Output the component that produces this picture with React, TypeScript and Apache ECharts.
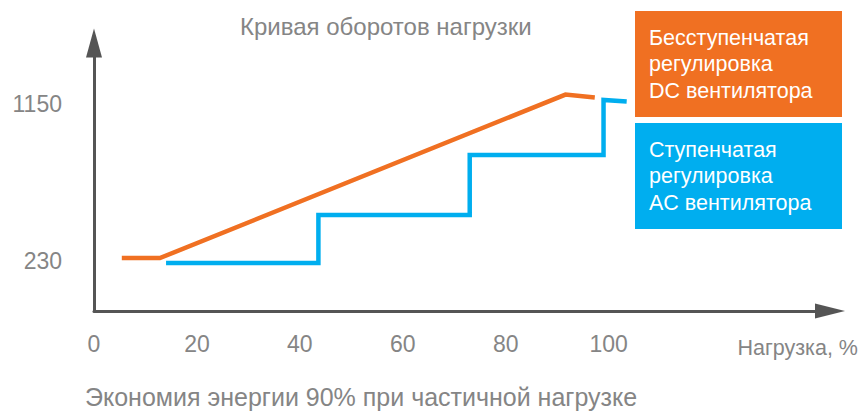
import React, { useEffect, useRef } from "react";
import * as echarts from "echarts";

// Axis tick labels
const xTicks = [0, 20, 40, 60, 80, 100];
const yTicks = [230, 1150];

// DC fan (stepless) curve: load %, speed
const dcLoad = [5.4, 12.8, 91.6, 97.3];
const dcSpeed = [250, 250, 1208, 1191];

// AC fan (stepped) curve: load %, speed
const acLoad = [14.0, 43.6, 43.6, 73.0, 73.0, 99.0, 99.0, 103.5];
const acSpeed = [221, 221, 502, 502, 854, 854, 1176, 1167];

const dcLabel = ["Бесступенчатая", "регулировка", "DC вентилятора"];
const acLabel = ["Ступенчатая", "регулировка", "AC вентилятора"];

const titleText = "Кривая оборотов нагрузки";
const footText = "Экономия энергии 90% при частичной нагрузке";
const xName = "Нагрузка, %";

const ORANGE = "#F07022";
const BLUE = "#00AEEF";
const GRAY = "#858585";
const AXIS = "#555555";
const FONT = "'Liberation Sans', Arial, sans-serif";

export default function App() {
  const ref = useRef<HTMLDivElement>(null);
  useEffect(() => {
    if (!ref.current) return;
    const chart = echarts.init(ref.current, undefined, { renderer: "svg" });
    const legendBox = (top: number, color: string, lines: string[]) => ({
      type: "group",
      left: 635,
      top,
      children: [
        {
          type: "rect",
          shape: { x: 0, y: 0, width: 207, height: 106 },
          style: { fill: color },
        },
        {
          type: "text",
          x: 14,
          y: 53,
          style: {
            text: lines.join("\n"),
            fill: "#ffffff",
            fontSize: 21.5,
            fontFamily: FONT,
            lineHeight: 26.5,
            align: "left",
            verticalAlign: "middle",
          },
        },
      ],
    });
    chart.setOption({
      animation: false,
      title: [
        {
          text: titleText,
          left: 235,
          top: 9,
          textStyle: { fontSize: 24, fontWeight: "normal", color: GRAY, fontFamily: FONT },
        },
        {
          text: footText,
          left: 80,
          top: 379,
          textStyle: { fontSize: 25, fontWeight: "normal", color: GRAY, fontFamily: FONT },
        },
      ],
      grid: { left: 94, right: 34, top: 43, bottom: 100, containLabel: false, outerBoundsMode: "none" },
      xAxis: {
        type: "value",
        min: 0,
        max: 143,
        name: xName,
        nameLocation: "end",
        nameGap: 28,
        nameTextStyle: {
          align: "right",
          verticalAlign: "top",
          padding: [26, 0, 0, 0],
          fontSize: 21.5,
          color: GRAY,
          fontFamily: FONT,
        },
        axisLine: {
          show: true,
          onZero: false,
          symbol: ["none", "triangle"],
          symbolSize: [15, 30],
          lineStyle: { color: AXIS, width: 3 },
        },
        axisTick: { show: false },
        splitLine: { show: false },
        axisLabel: {
          customValues: xTicks,
          margin: 21,
          fontSize: 23,
          color: GRAY,
          fontFamily: FONT,
          formatter: (v: number) => String(v),
        },
      },
      yAxis: {
        type: "value",
        min: -60,
        max: 1510,
        axisLine: {
          show: true,
          onZero: false,
          symbol: ["none", "triangle"],
          symbolSize: [16, 29],
          lineStyle: { color: AXIS, width: 3 },
        },
        axisTick: { show: false },
        splitLine: { show: false },
        axisLabel: {
          customValues: yTicks,
          margin: 32,
          fontSize: 23,
          color: GRAY,
          fontFamily: FONT,
          formatter: (v: number) => String(v),
        },
      },
      series: [
        {
          type: "line",
          name: dcLabel.join(" "),
          symbol: "none",
          data: dcLoad.map((x, i) => [x, dcSpeed[i]]),
          lineStyle: { color: ORANGE, width: 4.5, cap: "butt", join: "miter" },
        },
        {
          type: "line",
          name: acLabel.join(" "),
          symbol: "none",
          data: acLoad.map((x, i) => [x, acSpeed[i]]),
          lineStyle: { color: BLUE, width: 4.5, cap: "butt", join: "miter" },
        },
      ],
      graphic: [legendBox(11, ORANGE, dcLabel), legendBox(123, BLUE, acLabel)],
    });
    return () => chart.dispose();
  }, []);
  return (
    <div
      ref={ref}
      style={{ position: "fixed", left: 0, top: 0, width: 864, height: 411, background: "#fff" }}
    />
  );
}
